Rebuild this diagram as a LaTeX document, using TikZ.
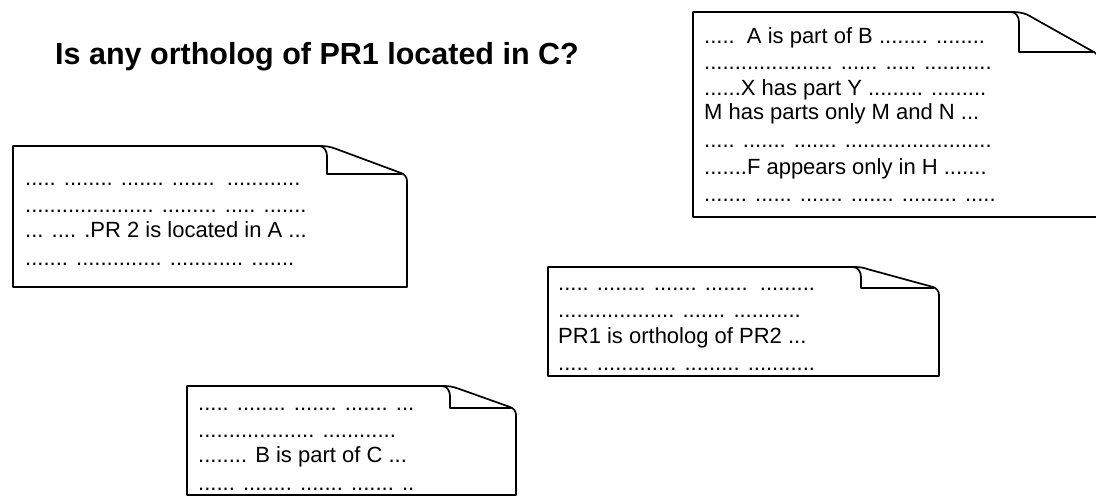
\documentclass[tikz,border=0pt]{standalone}
\usepackage{fontspec}
\setmainfont{Liberation Sans}
\begin{document}
\begin{tikzpicture}[x=1pt,y=-1pt,
  docline/.style={line width=1.7pt,line join=round},
  body/.style={anchor=base west,inner sep=0pt,font=\fontsize{22}{26}\selectfont},
  headline/.style={anchor=base west,inner sep=0pt,font=\fontsize{30.5}{34}\selectfont\bfseries}]
\useasboundingbox (0,0) rectangle (1096,496);

% a sheet of paper with its top right corner folded over:
% #1 left, #2 top, #3 right, #4 bottom, #5 x of the fold, #6 y of the fold
\newcommand{\foldedsheet}[6]{%
  \draw[docline] (#1,#2) -- (#5-8,#2)
    to[out=0,in=160] (#5+8,#2+2.5)
    -- (#3-6,#6-1) to[out=-20,in=90] (#3,#6+7)
    -- (#3,#4) -- (#1,#4) -- cycle;
  \draw[docline] (#5-8,#2) to[out=0,in=90] (#5,#2+10)
    -- (#5,#6) -- (#3-5,#6);
}

\node[headline] (question) at (55,64) {Is any ortholog of PR1 located in C?};

% upper right sheet
\foldedsheet{693}{12}{1098}{217}{1019}{52}
\node[body] (ur1) at (704,43)  {.....\ \ A is part of B ........ ........};
\node[body] (ur2) at (704,69)  {..................... ...... ..... ...........};
\node[body] (ur3) at (704,95)  {......X has part Y ......... .........};
\node[body] (ur4) at (704,119) {M has parts only M and N ...};
\node[body] (ur5) at (704,147) {..... ....... ....... ........................};
\node[body] (ur6) at (704,174) {.......F appears only in H .......};
\node[body] (ur7) at (704,201) {....... ...... ....... ....... ......... .....};

% left sheet
\foldedsheet{13}{146}{407}{287}{327}{174}
\node[body] (l1) at (25,185) {..... ........ ....... .......\ \ ............};
\node[body] (l2) at (25,212) {..................... ......... ..... .......};
\node[body] (l3) at (25,237) {... .... .PR 2 is located in A ...};
\node[body] (l4) at (25,265) {....... .............. ............ .......};

% middle sheet
\foldedsheet{548}{267}{939}{376}{861}{288}
\node[body] (m1) at (558,290) {..... ........ ....... .......\ \ .........};
\node[body] (m2) at (558,317) {................... ....... ...........};
\node[body] (m3) at (558,343) {PR1 is ortholog of PR2 ...};
\node[body] (m4) at (558,370) {..... ............. ......... ...........};

% lower sheet
\foldedsheet{187}{386}{516}{495}{450}{408}
\node[body] (b1) at (198,410) {..... ........ ....... ....... ...};
\node[body] (b2) at (198,437) {................... ............};
\node[body] (b3) at (198,462) {........ B is part of C ...};
\node[body] (b4) at (198,490) {...... ........ ....... ....... ..};
\end{tikzpicture}
\end{document}
